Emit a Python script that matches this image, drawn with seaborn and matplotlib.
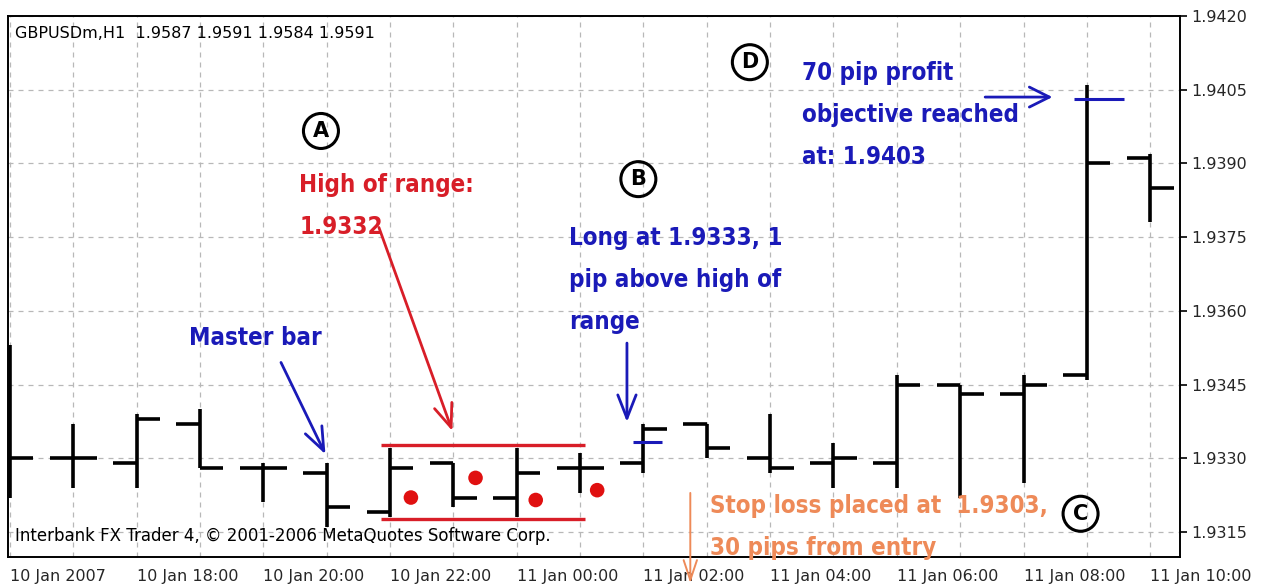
import numpy as np
import pandas as pd
import matplotlib
matplotlib.use("Agg")
import matplotlib.pyplot as plt
from matplotlib import font_manager as fm
import seaborn as sns

# hourly GBPUSD bars, 10 Jan 16:00 -> 11 Jan 10:00
hours = ["10 Jan 16:00", "10 Jan 17:00", "10 Jan 18:00", "10 Jan 19:00", "10 Jan 20:00",
         "10 Jan 21:00", "10 Jan 22:00", "10 Jan 23:00", "11 Jan 00:00", "11 Jan 01:00",
         "11 Jan 02:00", "11 Jan 03:00", "11 Jan 04:00", "11 Jan 05:00", "11 Jan 06:00",
         "11 Jan 07:00", "11 Jan 08:00", "11 Jan 09:00", "11 Jan 10:00"]
opens = [1.9335, 1.9330, 1.9329, 1.9337, 1.9328, 1.9327, 1.9319, 1.9329, 1.9322, 1.9328,
         1.9329, 1.9337, 1.9330, 1.9329, 1.9329, 1.9345, 1.9343, 1.9347, 1.9391]
highs = [1.9353, 1.9337, 1.9339, 1.9340, 1.9329, 1.9329, 1.9332, 1.9329, 1.9332, 1.9331,
         1.9337, 1.9337, 1.9339, 1.9333, 1.9347, 1.9345, 1.9347, 1.9406, 1.9392]
lows = [1.9322, 1.9324, 1.9324, 1.9328, 1.9321, 1.9316, 1.9318, 1.9320, 1.9318, 1.9323,
        1.9327, 1.9330, 1.9327, 1.9324, 1.9324, 1.9322, 1.9325, 1.9346, 1.9378]
closes = [1.9330, 1.9330, 1.9338, 1.9328, 1.9328, 1.9320, 1.9328, 1.9322, 1.9327, 1.9328,
          1.9336, 1.9332, 1.9328, 1.9330, 1.9345, 1.9343, 1.9345, 1.9390, 1.9385]

tick_labels = ["10 Jan 2007", "10 Jan 18:00", "10 Jan 20:00", "10 Jan 22:00", "11 Jan 00:00",
               "11 Jan 02:00", "11 Jan 04:00", "11 Jan 06:00", "11 Jan 08:00", "11 Jan 10:00"]
price_ticks = [1.9315, 1.9330, 1.9345, 1.9360, 1.9375, 1.9390, 1.9405, 1.9420]

# red dots inside the opening range
dot_pos = [6.33, 7.35, 8.3, 9.27]
dot_price = [1.9322, 1.9326, 1.93215, 1.93235]
range_high = 1.93327
range_low = 1.93176
entry_price = 1.93334
target_price = 1.94031

BLUE = "#1a1ab8"
RED = "#d81e28"
ORANGE = "#ee8a58"

df = pd.DataFrame({"hour": hours, "open": opens, "high": highs, "low": lows, "close": closes})
df["x"] = np.arange(len(df))
dots = pd.DataFrame({"x": dot_pos, "price": dot_price})

sns.set_theme(style="white")
plt.rcParams["font.family"] = ["DejaVu Sans"]

# narrow bold face for the annotations, if there is one
note_font = ["DejaVu Sans"]
note_stretch = "normal"
note_size = 15.5
for fam in ["Liberation Sans Narrow", "Arial Narrow"]:
    try:
        fm.findfont(fm.FontProperties(family=fam, weight="bold"), fallback_to_default=False)
        note_font = [fam, "DejaVu Sans"]
        note_size = 20
        break
    except Exception:
        pass
else:
    path = fm.findfont(fm.FontProperties(family="DejaVu Sans", weight="bold", stretch="condensed"))
    if "Condensed" in path:
        note_stretch = "condensed"
        note_size = 17.3

fig = plt.figure(figsize=(12.66, 5.86), dpi=100)
ax = fig.add_axes([0.0063, 0.0495, 0.9258, 0.9232])

# OHLC bars
w = 0.37
ax.vlines(df["x"], df["low"], df["high"], color="black", lw=2.6, zorder=3)
ax.hlines(df["open"], df["x"] - w, df["x"], color="black", lw=2.6, zorder=3)
ax.hlines(df["close"], df["x"], df["x"] + w, color="black", lw=2.6, zorder=3)

sns.scatterplot(data=dots, x="x", y="price", color="#e01010", s=110, edgecolor="none",
                ax=ax, zorder=4, legend=False)

# opening range lines
ax.hlines([range_high, range_low], 5.85, 9.08, color=RED, lw=2.4, zorder=2)

# entry and target markers
ax.hlines(entry_price, 9.83, 10.3, color=BLUE, lw=2.2, zorder=4)
ax.hlines(target_price, 16.8, 17.58, color=BLUE, lw=2.2, zorder=4)

ax.set_xlim(-0.03, 18.47)
ax.set_ylim(1.93099, 1.9420)

ax.set_xticks(df["x"][::2])
ax.set_xticklabels(tick_labels, ha="left", fontsize=11.5)
ax.set_xticks(df["x"][1::2], minor=True)
ax.set_yticks(price_ticks)
ax.set_yticklabels([f"{p:.4f}" for p in price_ticks], fontsize=11.5)
ax.yaxis.tick_right()
ax.tick_params(axis="both", which="major", length=5, width=1.2, color="black", pad=3)
ax.tick_params(axis="x", which="minor", length=0)
ax.tick_params(axis="x", pad=4)
ax.grid(True, which="both", color="#b8b8b8", lw=0.9, ls=(0, (4, 4)))
for s in ax.spines.values():
    s.set_color("black")
    s.set_linewidth(1.4)
ax.set_xlabel("")
ax.set_ylabel("")

# header / footer texts
ax.text(0.006, 0.967, "GBPUSDm,H1  1.9587 1.9591 1.9584 1.9591", transform=ax.transAxes,
        fontsize=11.5, va="center", ha="left", color="black")
ax.text(0.006, 0.038, "Interbank FX Trader 4, \u00a9 2001-2006 MetaQuotes Software Corp.",
        transform=ax.transAxes, fontsize=12, va="center", ha="left", color="black", zorder=5)

# circled letters
for letter, xx, yy in [("A", 4.91, 1.93966), ("B", 9.92, 1.93868), ("C", 16.9, 1.93187),
                       ("D", 11.68, 1.94106)]:
    ax.text(xx, yy, letter, fontsize=15, ha="center", va="center", fontweight="bold",
            color="black", bbox=dict(boxstyle="circle,pad=0.36", fc="none", ec="black", lw=2.2))

note = dict(family=note_font, fontstretch=note_stretch, fontsize=note_size, fontweight="bold",
            va="center", ha="left")
head = "->,head_length=1.4,head_width=0.55"

ax.text(4.57, 1.93813, "High of range:\n1.9332", color=RED, linespacing=1.95, **note)
ax.annotate("", xy=(7.0, 1.9335), xytext=(5.81, 1.93775),
            arrowprops=dict(arrowstyle=head, color=RED, lw=2))

ax.text(2.82, 1.93545, "Master bar", color=BLUE, **note)
ax.annotate("", xy=(5.0, 1.93303), xytext=(4.26, 1.9350),
            arrowprops=dict(arrowstyle=head, color=BLUE, lw=2))

ax.text(8.82, 1.93663, "Long at 1.9333, 1\npip above high of\nrange", color=BLUE,
        linespacing=1.95, **note)
ax.annotate("", xy=(9.74, 1.93368), xytext=(9.74, 1.9354),
            arrowprops=dict(arrowstyle=head, color=BLUE, lw=2))

ax.text(12.5, 1.93999, "70 pip profit\nobjective reached\nat: 1.9403", color=BLUE,
        linespacing=1.95, **note)
ax.annotate("", xy=(16.5, 1.94035), xytext=(15.35, 1.94035),
            arrowprops=dict(arrowstyle="->,head_length=1.2,head_width=0.6", color=BLUE, lw=2))

ax.text(11.05, 1.9316, "Stop loss placed at  1.9303,\n30 pips from entry", color=ORANGE,
        linespacing=1.9, zorder=5, clip_on=False, **note)
ax.annotate("", xy=(10.74, 1.9304), xytext=(10.74, 1.93235),
            arrowprops=dict(arrowstyle="->,head_length=1.2,head_width=0.4", color=ORANGE, lw=1.4),
            annotation_clip=False)

fig.savefig("out.png", dpi=100)
